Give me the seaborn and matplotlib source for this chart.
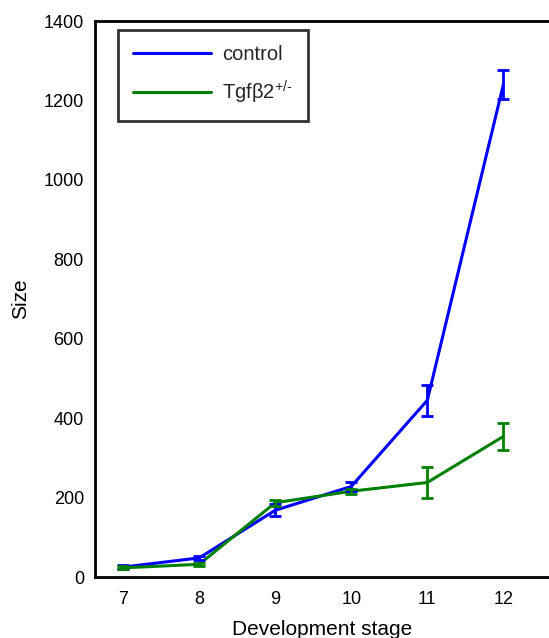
import matplotlib

matplotlib.use("Agg")

import matplotlib.pyplot as plt
import pandas as pd
import seaborn as sns

stages = [7, 8, 9, 10, 11, 12]
control_size = [25, 48, 168, 228, 445, 1240]
control_err = [5, 5, 15, 12, 39, 36]
tgf_size = [23, 32, 187, 216, 238, 354]
tgf_err = [4, 4, 8, 6, 39, 35]

series_names = ["control", "Tgf\u03b22$^{\\text{+/-}}$"]
series_colors = ["#0000ff", "#008000"]

df = pd.concat(
    [
        pd.DataFrame({"stage": stages, "size": control_size, "err": control_err, "group": series_names[0]}),
        pd.DataFrame({"stage": stages, "size": tgf_size, "err": tgf_err, "group": series_names[1]}),
    ],
    ignore_index=True,
)

sns.set_theme(style="white")
plt.rcParams["font.family"] = ["Liberation Sans", "DejaVu Sans"]
plt.rcParams["mathtext.fontset"] = "custom"
plt.rcParams["mathtext.rm"] = "Liberation Sans"
plt.rcParams["mathtext.it"] = "Liberation Sans:italic"

fig = plt.figure(figsize=(5.49, 6.38), dpi=100)
ax = fig.add_axes([95 / 549, 1 - 577 / 638, 1 - 95 / 549, (577 - 21) / 638])

sns.lineplot(
    data=df, x="stage", y="size", hue="group",
    palette=dict(zip(series_names, series_colors)),
    linewidth=2.2, ax=ax, legend=True,
)
for name, color in zip(series_names, series_colors):
    sub = df[df["group"] == name]
    ax.errorbar(sub["stage"], sub["size"], yerr=sub["err"], fmt="none",
                ecolor=color, elinewidth=2, capsize=4, capthick=2)

ax.set_xlim(6.63, 12.6)
ax.set_ylim(0, 1400)
ax.set_xticks(stages)
ax.set_yticks(range(0, 1401, 200))
ax.tick_params(axis="both", length=0, labelsize=13, colors="black")
ax.tick_params(axis="y", pad=8)
ax.tick_params(axis="x", pad=10)
ax.set_xlabel("Development stage", fontsize=15, color="black", labelpad=9)
ax.set_ylabel("Size", fontsize=15, color="black", labelpad=10)

for side in ["left", "bottom", "top"]:
    ax.spines[side].set_color("black")
    ax.spines[side].set_linewidth(2)
ax.spines["right"].set_visible(False)

handles, labels = ax.get_legend_handles_labels()
leg = ax.legend(handles, labels, loc="upper left", bbox_to_anchor=(0.05, 0.984),
                fontsize=14.5, frameon=True, fancybox=False, handlelength=3.9,
                borderpad=0.75, labelspacing=0.72, handletextpad=0.55, borderaxespad=0)
leg.get_frame().set_edgecolor("black")
leg.get_frame().set_linewidth(2)
for line in leg.get_lines():
    line.set_linewidth(2.2)
for text in leg.get_texts():
    text.set_fontsize(14.5)

fig.savefig("out.png", dpi=100)
